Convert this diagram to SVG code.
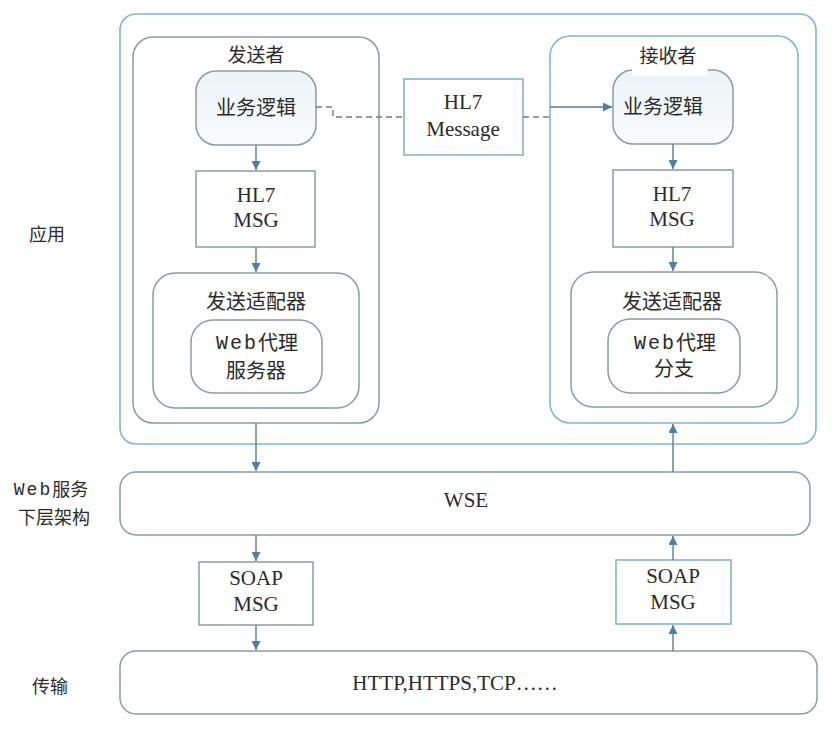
<svg xmlns="http://www.w3.org/2000/svg" width="832" height="748" viewBox="0 0 832 748">
<style>
  .t{font-family:"Liberation Serif","Noto Sans CJK SC",serif;fill:#2b2b2b;text-anchor:middle;dominant-baseline:central}
  .zh{font-size:20px}
  .en{font-size:21px}
  .mono{font-family:"Liberation Mono","Noto Sans CJK SC",monospace;letter-spacing:2px}
  .blue{fill:none;stroke:#7fb6d8;stroke-width:1.6}
  .gray{fill:#fff;stroke:#8e9aa2;stroke-width:1.5}
  .logic{fill:url(#lg);stroke:#8e9aa2;stroke-width:1.5}
  .sq{fill:#fff;stroke:#8e9aa2;stroke-width:1.5}
  .sqb{fill:#fff;stroke:#84b4d2;stroke-width:1.6}
  .ln{fill:none;stroke:#5d7d93;stroke-width:1.4}
  .dash{fill:none;stroke:#7b7b7b;stroke-width:1.4;stroke-dasharray:6 4}
</style>
<defs>
  <linearGradient id="lg" x1="0" y1="0" x2="0" y2="1">
    <stop offset="0" stop-color="#ecf3f7"/>
    <stop offset="1" stop-color="#f8fbfc"/>
  </linearGradient>
  <marker id="ah" viewBox="0 0 10 10" refX="10" refY="5" markerWidth="9" markerHeight="9" markerUnits="userSpaceOnUse" orient="auto">
    <path d="M0,0 L10,5 L0,10 Z" fill="#4f7ea6"/>
  </marker>
</defs>
<rect width="832" height="748" fill="#fff"/>

<g id="layer-labels">
  <text class="t" x="47" y="235" style="font-size:18px">应用</text>
  <text class="t" x="51" y="490" style="font-size:18px"><tspan class="mono" style="font-size:18px">Web</tspan>服务</text>
  <text class="t" x="54" y="518" style="font-size:18px">下层架构</text>
  <text class="t" x="50" y="687" style="font-size:18px">传输</text>
</g>

<g id="app">
  <rect class="blue" x="120" y="14" width="696" height="430" rx="16"/>
</g>

<g id="sender">
  <rect class="gray" x="133" y="37" width="246" height="386" rx="20"/>
  <text class="t" x="256" y="55" style="font-size:19px">发送者</text>
</g>
<g id="sender-logic">
  <rect class="logic" x="196" y="71" width="120" height="74" rx="20"/>
  <text class="t zh" x="256" y="108">业务逻辑</text>
</g>
<g id="sender-hl7">
  <rect class="sq" x="196" y="171" width="119" height="76"/>
  <text class="t en" x="256" y="195">HL7</text>
  <text class="t en" x="256" y="220">MSG</text>
</g>
<g id="sender-adapter">
  <rect class="gray" x="153" y="273" width="206" height="135" rx="22"/>
  <text class="t zh" x="256" y="302">发送适配器</text>
</g>
<g id="sender-proxy">
  <rect class="gray" x="191" y="320" width="131" height="73" rx="22"/>
  <text class="t zh" x="257" y="343"><tspan class="mono">Web</tspan>代理</text>
  <text class="t zh" x="256" y="371">服务器</text>
</g>

<g id="hl7-message">
  <rect class="sqb" x="404" y="79" width="119" height="76"/>
  <text class="t en" x="463" y="102">HL7</text>
  <text class="t en" x="463" y="129">Message</text>
</g>

<g id="receiver">
  <rect class="blue" x="550" y="36" width="248" height="387" rx="20" style="fill:#fff"/>
</g>
<g id="receiver-logic">
  <rect class="logic" x="613" y="70" width="120" height="74" rx="20"/>
  <rect x="632" y="64" width="76" height="12" fill="#fff"/>
  <text class="t" x="668" y="56" style="font-size:19px">接收者</text>
  <text class="t zh" x="663" y="107">业务逻辑</text>
</g>
<g id="receiver-hl7">
  <rect class="sq" x="613" y="170" width="120" height="77"/>
  <text class="t en" x="672" y="194">HL7</text>
  <text class="t en" x="672" y="219">MSG</text>
</g>
<g id="receiver-adapter">
  <rect class="gray" x="571" y="272" width="206" height="135" rx="22"/>
  <text class="t zh" x="672" y="302">发送适配器</text>
</g>
<g id="receiver-proxy">
  <rect class="gray" x="608" y="319" width="132" height="74" rx="22"/>
  <text class="t zh" x="675" y="343"><tspan class="mono">Web</tspan>代理</text>
  <text class="t zh" x="674" y="369">分支</text>
</g>

<g id="wse">
  <rect class="gray" x="120" y="472" width="690" height="63" rx="16"/>
  <text class="t en" x="466" y="500">WSE</text>
</g>

<g id="soap-left">
  <rect class="sq" x="199" y="562" width="114" height="63"/>
  <text class="t en" x="256" y="578">SOAP</text>
  <text class="t en" x="256" y="604">MSG</text>
</g>
<g id="soap-right">
  <rect class="sqb" x="616" y="560" width="115" height="64"/>
  <text class="t en" x="673" y="576">SOAP</text>
  <text class="t en" x="673" y="602">MSG</text>
</g>

<g id="transport">
  <rect class="gray" x="120" y="651" width="697" height="63" rx="16"/>
  <text class="t en" x="455" y="683">HTTP,HTTPS,TCP……</text>
</g>

<g id="connectors">
  <path class="dash" d="M316,107 H333 V117 H404"/>
  <path class="dash" d="M523,117 H550"/>
  <path class="ln" d="M550,107 H612" marker-end="url(#ah)"/>
  <path class="ln" d="M256,145 V170" marker-end="url(#ah)"/>
  <path class="ln" d="M256,247 V272" marker-end="url(#ah)"/>
  <path class="ln" d="M256,423 V471" marker-end="url(#ah)"/>
  <path class="ln" d="M256,535 V561" marker-end="url(#ah)"/>
  <path class="ln" d="M256,625 V650" marker-end="url(#ah)"/>
  <path class="ln" d="M673,144 V169" marker-end="url(#ah)"/>
  <path class="ln" d="M673,247 V271" marker-end="url(#ah)"/>
  <path class="ln" d="M673,472 V424" marker-end="url(#ah)"/>
  <path class="ln" d="M673,651 V625" marker-end="url(#ah)"/>
  <path class="ln" d="M673,560 V536" marker-end="url(#ah)"/>
</g>
</svg>
